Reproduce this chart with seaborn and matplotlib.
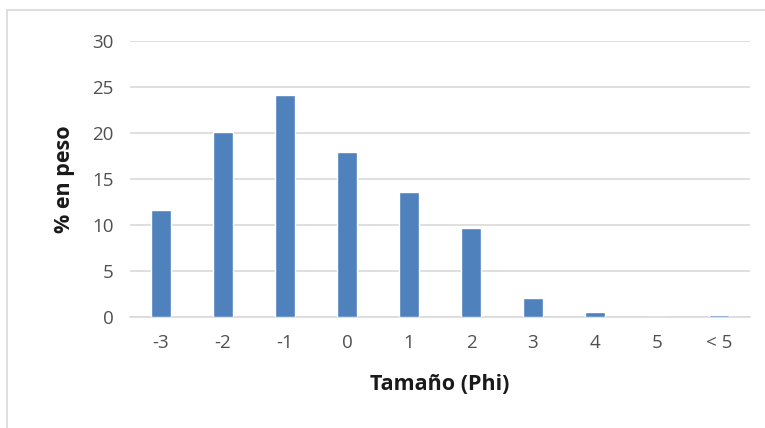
import matplotlib
matplotlib.use("Agg")
import matplotlib.pyplot as plt
from matplotlib.patches import Rectangle
import seaborn as sns
import pandas as pd

# Grain-size distribution (weight percent per Phi class)
categories = ["-3", "-2", "-1", "0", "1", "2", "3", "4", "5", "< 5"]
weight_pct = [11.6, 20.1, 24.1, 17.9, 13.6, 9.7, 2.05, 0.5, 0.0, 0.25]
y_ticks = [0, 5, 10, 15, 20, 25, 30]

df = pd.DataFrame({"phi": categories, "pct": weight_pct})

sns.set_theme(style="white")
plt.rcParams["font.family"] = ["Open Sans", "DejaVu Sans"]

fig = plt.figure(figsize=(7.65, 4.28), dpi=100)
ax = fig.add_axes([130 / 765, 1 - 317 / 428, 620 / 765, 276 / 428])

sns.barplot(data=df, x="phi", y="pct", color="#4F81BD", saturation=1,
            width=0.33, ax=ax, zorder=3)

ax.set_ylim(0, 30)
ax.set_xlim(-0.5, len(categories) - 0.5)
ax.set_yticks(y_ticks)
ax.yaxis.grid(True, color="#D9D9D9", linewidth=1.2, zorder=0)
ax.xaxis.grid(False)
for side in ["left", "right", "top"]:
    ax.spines[side].set_visible(False)
ax.spines["bottom"].set_color("#D9D9D9")
ax.spines["bottom"].set_linewidth(1.2)
ax.tick_params(axis="both", length=0, labelsize=13.5, labelcolor="#505050")
ax.tick_params(axis="y", pad=12)
ax.tick_params(axis="x", pad=12)

ax.set_xlabel("Tamaño (Phi)", fontsize=15.5, fontweight="bold", color="#1A1A1A", labelpad=16)
ax.set_ylabel("% en peso", fontsize=15.5, fontweight="bold", color="#1A1A1A", labelpad=12)

# chart-area frame
fig.patches.append(Rectangle((7 / 765, -0.1), 1.2, 1 - 10 / 428 + 0.1,
                             transform=fig.transFigure, fill=False,
                             edgecolor="#D9D9D9", linewidth=1.2))

fig.savefig("out.png", dpi=100, facecolor="white")
